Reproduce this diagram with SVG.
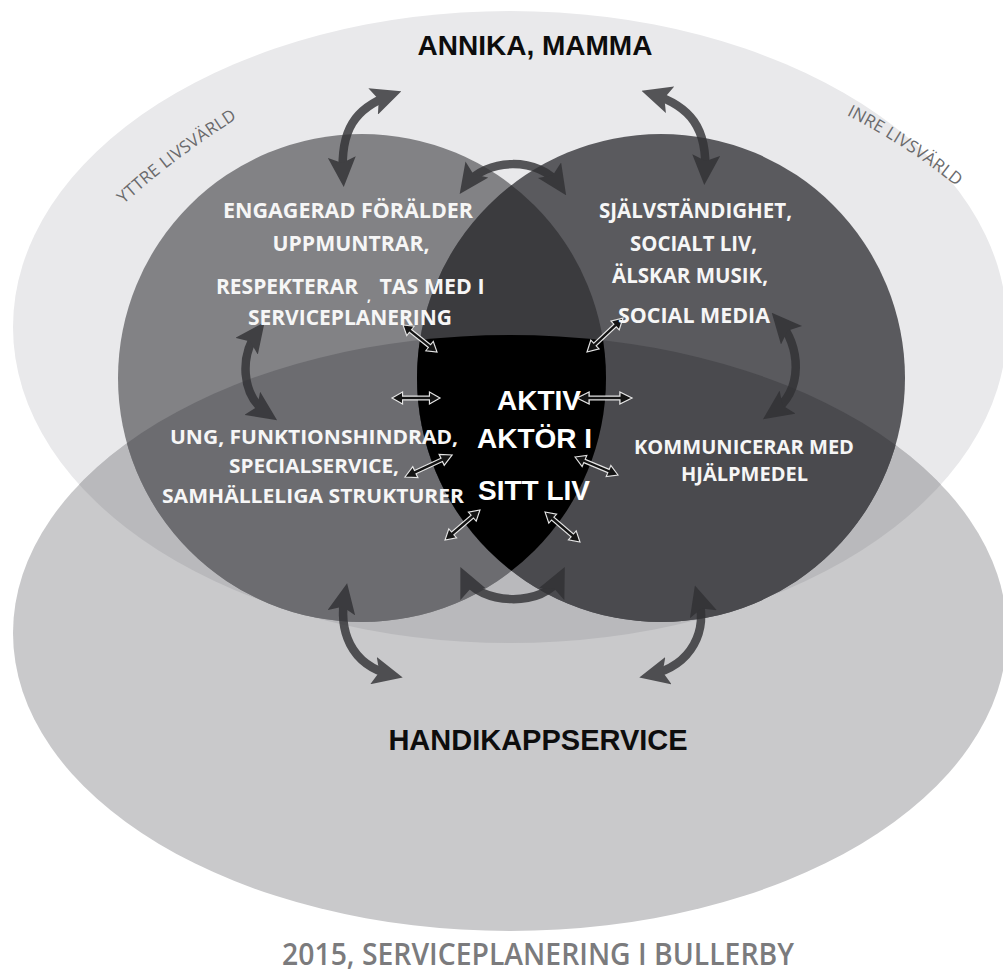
<svg xmlns="http://www.w3.org/2000/svg" xmlns:xlink="http://www.w3.org/1999/xlink" width="1003" height="972" viewBox="0 0 1003 972">
<style>
.ba{opacity:.8}
.ba path{fill:none;stroke:#303033;stroke-width:8.5;marker-start:url(#ah);marker-end:url(#ah)}
.sa{fill:#141414;stroke:#e4e4e4;stroke-width:1.2;vector-effect:non-scaling-stroke}
.w{font-family:"Open Sans","Liberation Sans",sans-serif;font-weight:700;fill:#f6f6f6;text-anchor:middle}
.w20{font-size:22px}
.w18{font-size:19.5px}
.c{font-family:"Liberation Sans",Arial,sans-serif;font-weight:700;fill:#fff;font-size:28px;text-anchor:middle}
.h{font-family:"Liberation Sans",Arial,sans-serif;font-weight:700;fill:#0d0d0d;text-anchor:middle}
.lv{font-family:"Open Sans","Liberation Sans",sans-serif;font-size:17px;fill:#6a6a6c;letter-spacing:0.3px}
</style>
<defs>
<clipPath id="cT"><ellipse cx="510" cy="327" rx="497" ry="316"/></clipPath>
<clipPath id="cB"><ellipse cx="510" cy="633" rx="497" ry="298"/></clipPath>
<clipPath id="cL"><circle cx="362" cy="378" r="244"/></clipPath>
<marker id="ah" viewBox="0 0 30 28" refX="19" refY="14" markerWidth="30" markerHeight="28" markerUnits="userSpaceOnUse" orient="auto-start-reverse">
<path d="M0,0 L30,14 L0,28 L6,14 Z" fill="#303033"/>
</marker>
<path id="sa" d="M-25,0 L-14,-6 L-14,-1.8 L14,-1.8 L14,-6 L25,0 L14,6 L14,1.8 L-14,1.8 L-14,6 Z"/>
<path id="pY" d="M108,219 Q172,157 256,107"/>
<path id="pI" d="M836,110 Q905,143 966,194"/>
</defs>

<g id="node-annika">
<ellipse cx="510" cy="327" rx="497" ry="316" fill="#e9e9eb"/>
</g>
<g id="node-handikappservice">
<ellipse cx="510" cy="633" rx="497" ry="298" fill="#c9c9cb"/>
<ellipse cx="510" cy="633" rx="497" ry="298" fill="#b9b9bc" clip-path="url(#cT)"/>
</g>
<g id="node-yttre">
<circle cx="362" cy="378" r="244" fill="#828285"/>
<circle cx="362" cy="378" r="244" fill="#6c6c70" clip-path="url(#cB)"/>
</g>
<g id="node-inre">
<circle cx="661" cy="378" r="244" fill="#5a5a5e"/>
<circle cx="661" cy="378" r="244" fill="#4a4a4e" clip-path="url(#cB)"/>
</g>
<g id="node-center">
<g clip-path="url(#cL)">
<circle cx="661" cy="378" r="244" fill="#3b3b3e"/>
<g clip-path="url(#cB)"><circle cx="661" cy="378" r="244" fill="#000"/></g>
</g>
</g>

<g id="connectors">
<g class="ba"><path d="M343,176 C340,130 355,108 391,95"/></g>
<g class="ba"><path d="M705,174 C708,128 690,106 652,94"/></g>
<g class="ba"><path d="M466,185 C485,158 540,156 560,186"/></g>
<g class="ba"><path d="M258,331 C240,355 240,395 268,414"/></g>
<g class="ba"><path d="M779,321 C800,345 805,390 772,413"/></g>
<g class="ba"><path d="M465,577 C478,605 545,608 560,577"/></g>
<g class="ba"><path d="M345,594 C338,630 350,665 392,675"/></g>
<g class="ba"><path d="M698,596 C708,630 693,665 650,675"/></g>
<use xlink:href="#sa" href="#sa" class="sa" transform="translate(420,338.5) rotate(38.5) scale(0.87,1)"/>
<use xlink:href="#sa" href="#sa" class="sa" transform="translate(605,335) rotate(-43.4) scale(0.99,1)"/>
<use xlink:href="#sa" href="#sa" class="sa" transform="translate(416,398) scale(0.96,1)"/>
<use xlink:href="#sa" href="#sa" class="sa" transform="translate(604.5,398) scale(1.1,1)"/>
<use xlink:href="#sa" href="#sa" class="sa" transform="translate(428.5,466) rotate(-25) scale(1.04,1)"/>
<use xlink:href="#sa" href="#sa" class="sa" transform="translate(596.5,466) rotate(22.7) scale(0.93,1)"/>
<use xlink:href="#sa" href="#sa" class="sa" transform="translate(462.5,525) rotate(-40.6) scale(0.92,1)"/>
<use xlink:href="#sa" href="#sa" class="sa" transform="translate(562.5,527) rotate(40.6) scale(0.92,1)"/>
</g>

<g id="label-annika">
<text class="h" x="535" y="55" font-size="28">ANNIKA, MAMMA</text>
</g>
<g id="label-handikappservice">
<text class="h" x="538" y="750" font-size="29">HANDIKAPPSERVICE</text>
</g>
<g id="label-yttre">
<text class="lv"><textPath href="#pY" xlink:href="#pY" startOffset="50%" text-anchor="middle">YTTRE LIVSVÄRLD</textPath></text>
<text class="w w20" x="348" y="218" textLength="250" lengthAdjust="spacingAndGlyphs">ENGAGERAD FÖRÄLDER</text>
<text class="w w20" x="351" y="251" textLength="157" lengthAdjust="spacingAndGlyphs">UPPMUNTRAR,</text>
<text class="w w20" x="287" y="294" textLength="142" lengthAdjust="spacingAndGlyphs">RESPEKTERAR</text>
<text class="w" x="369" y="301" font-size="14">,</text>
<text class="w w20" x="432" y="294" textLength="105" lengthAdjust="spacingAndGlyphs">TAS MED I</text>
<text class="w w20" x="350" y="325" textLength="204" lengthAdjust="spacingAndGlyphs">SERVICEPLANERING</text>
<text class="w w18" x="314" y="444" textLength="288" lengthAdjust="spacingAndGlyphs">UNG, FUNKTIONSHINDRAD,</text>
<text class="w w18" x="314" y="473" textLength="170" lengthAdjust="spacingAndGlyphs">SPECIALSERVICE,</text>
<text class="w w18" x="313" y="503" textLength="302" lengthAdjust="spacingAndGlyphs">SAMHÄLLELIGA STRUKTURER</text>
</g>
<g id="label-inre">
<text class="lv"><textPath href="#pI" xlink:href="#pI" startOffset="50%" text-anchor="middle">INRE LIVSVÄRLD</textPath></text>
<text class="w w20" x="695.5" y="218" textLength="193" lengthAdjust="spacingAndGlyphs">SJÄLVSTÄNDIGHET,</text>
<text class="w w20" x="693.5" y="251" textLength="127" lengthAdjust="spacingAndGlyphs">SOCIALT LIV,</text>
<text class="w w20" x="690" y="283" textLength="156" lengthAdjust="spacingAndGlyphs">ÄLSKAR MUSIK,</text>
<text class="w w20" x="694" y="323" textLength="152" lengthAdjust="spacingAndGlyphs">SOCIAL MEDIA</text>
<text class="w w18" x="744" y="454" textLength="220" lengthAdjust="spacingAndGlyphs">KOMMUNICERAR MED</text>
<text class="w w18" x="744.5" y="481" textLength="127" lengthAdjust="spacingAndGlyphs">HJÄLPMEDEL</text>
</g>
<g id="label-center">
<text class="c" x="539" y="410">AKTIV</text>
<text class="c" x="534.5" y="448">AKTÖR I</text>
<text class="c" x="534" y="500">SITT LIV</text>
</g>
<g id="caption">
<text x="538" y="965" font-family="'Open Sans','Liberation Sans',sans-serif" font-weight="600" font-size="31" fill="#7b7b7d" text-anchor="middle" textLength="512" lengthAdjust="spacingAndGlyphs">2015, SERVICEPLANERING I BULLERBY</text>
</g>
</svg>
